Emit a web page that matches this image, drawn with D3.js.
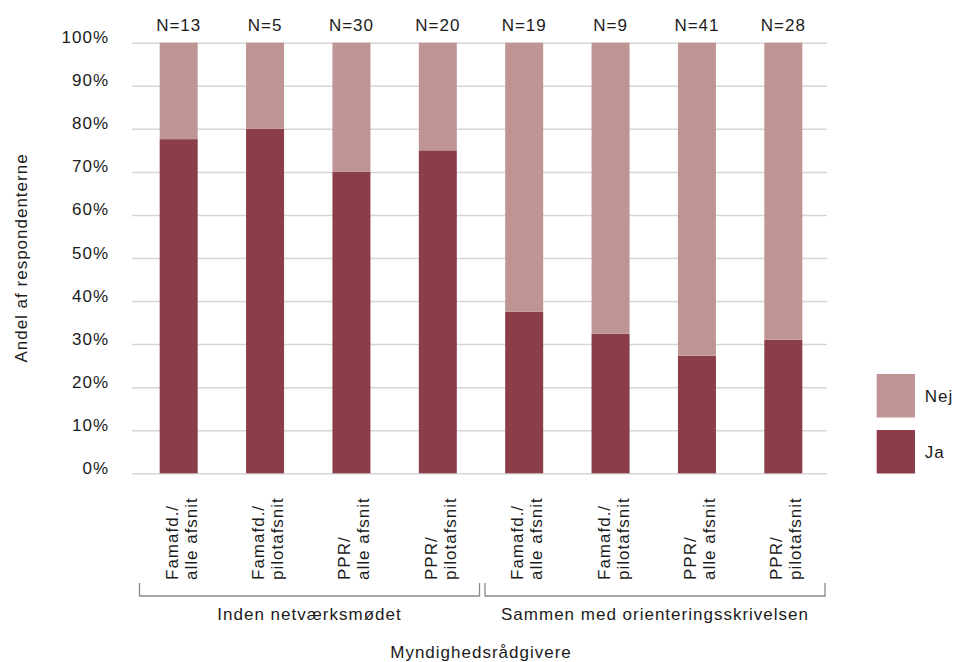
<!DOCTYPE html>
<html lang="da">
<head>
<meta charset="utf-8">
<script src="https://cdn.jsdelivr.net/npm/d3@7"></script>
<style>
  html, body { margin: 0; padding: 0; background: #fff; }
  svg { display: block; }
  text { font-family: "Liberation Sans", Arial, sans-serif; fill: #1b1b1b; letter-spacing: 1px; }
</style>
</head>
<body>
<svg id="chart" width="955" height="662"></svg>
<script>
// Svar fordelt på rådgivertype og tidspunkt (andel af respondenterne)
const groups = ["Inden netværksmødet", "Sammen med orienteringsskrivelsen"];
const groupOf = [0, 0, 0, 0, 1, 1, 1, 1];
const categoryLines = [
  ["Famafd./", "alle afsnit"],
  ["Famafd./", "pilotafsnit"],
  ["PPR/", "alle afsnit"],
  ["PPR/", "pilotafsnit"],
  ["Famafd./", "alle afsnit"],
  ["Famafd./", "pilotafsnit"],
  ["PPR/", "alle afsnit"],
  ["PPR/", "pilotafsnit"]
];
const nCounts = [13, 5, 30, 20, 19, 9, 41, 28];
const jaShare  = [77.6, 80, 70, 75, 37.5, 32.4, 27.3, 31.0];
const nejShare = [22.4, 20, 30, 25, 62.5, 67.6, 72.7, 69.0];
const seriesKeys = ["Ja", "Nej"];
const seriesColors = { Ja: "#8b3e47", Nej: "#bf9594" };
const yTicks = [0, 0.1, 0.2, 0.3, 0.4, 0.5, 0.6, 0.7, 0.8, 0.9, 1];
const yTitle = "Andel af respondenterne";
const xTitle = "Myndighedsrådgivere";

const svg = d3.select("#chart");

const plot = { left: 132, right: 827, top: 42.7, bottom: 473.3 };

const ids = categoryLines.map((_, i) => i);
const rows = ids.map(i => ({ id: i, Ja: jaShare[i] / 100, Nej: nejShare[i] / 100 }));

const x = d3.scaleBand()
  .domain(ids)
  .range([135.5, 826.5])
  .paddingInner(0.56)
  .paddingOuter(0.28);

const y = d3.scaleLinear().domain([0, 1]).range([plot.bottom, plot.top]);

// Gridlines and percentage tick labels
const yAxis = d3.axisLeft(y)
  .tickValues(yTicks)
  .tickFormat(d3.format(".0%"))
  .tickSize(-(plot.right - plot.left))
  .tickPadding(23);

const yg = svg.append("g")
  .attr("transform", `translate(${plot.left},0)`)
  .call(yAxis);
yg.select(".domain").remove();
yg.selectAll(".tick line").attr("stroke", "#d6d6d6").attr("stroke-width", 1.5);
yg.selectAll(".tick text")
  .attr("dy", "0em")
  .style("font-size", "17px")
  .attr("fill", "#1b1b1b");

// Stacked bars
const stacked = d3.stack().keys(seriesKeys)(rows);
svg.append("g")
  .selectAll("g")
  .data(stacked)
  .join("g")
  .attr("fill", s => seriesColors[s.key])
  .selectAll("rect")
  .data(s => s)
  .join("rect")
  .attr("x", d => x(d.data.id))
  .attr("width", x.bandwidth())
  .attr("y", d => y(d[1]))
  .attr("height", d => y(d[0]) - y(d[1]));

// N labels above each bar
svg.append("g")
  .selectAll("text")
  .data(ids)
  .join("text")
  .attr("x", i => x(i) + x.bandwidth() / 2)
  .attr("y", 30.5)
  .attr("text-anchor", "middle")
  .style("font-size", "17px")
  .text(i => `N=${nCounts[i]}`);

// Rotated two-line category labels
const catG = svg.append("g")
  .selectAll("text")
  .data(ids)
  .join("text")
  .attr("transform", i => `translate(${x(i) + x.bandwidth() / 2},580) rotate(-90)`)
  .attr("text-anchor", "start")
  .style("font-size", "17px");
catG.selectAll("tspan")
  .data(i => categoryLines[i].map((t, k) => ({ t, k })))
  .join("tspan")
  .attr("x", 0)
  .attr("y", d => d.k === 0 ? -1 : 18)
  .text(d => d.t);

// Group brackets and labels
const step = x.step();
const groupSpans = groups.map((g, gi) => {
  const members = ids.filter(i => groupOf[i] === gi);
  const start = x(members[0]) - step * 0.28;
  const end = x(members[members.length - 1]) + x.bandwidth() + step * 0.28;
  return { name: g, x0: start + 4, x1: end - 1.5 };
});

const bracketG = svg.append("g");
bracketG.selectAll("path")
  .data(groupSpans)
  .join("path")
  .attr("d", d => `M${d.x0},583 V596 H${d.x1} V583`)
  .attr("fill", "none")
  .attr("stroke", "#8a8a8a")
  .attr("stroke-width", 1.3);
bracketG.selectAll("text")
  .data(groupSpans)
  .join("text")
  .attr("x", d => (d.x0 + d.x1) / 2)
  .attr("y", 620)
  .attr("text-anchor", "middle")
  .style("font-size", "17px")
  .text(d => d.name);

// Axis titles
svg.append("text")
  .attr("transform", `translate(27,${(plot.top + plot.bottom) / 2}) rotate(-90)`)
  .attr("text-anchor", "middle")
  .style("font-size", "17px")
  .text(yTitle);

svg.append("text")
  .attr("x", 481)
  .attr("y", 658)
  .attr("text-anchor", "middle")
  .style("font-size", "17px")
  .text(xTitle);

// Legend (Nej above Ja, matching the stack order)
const legendItems = ["Nej", "Ja"];
const legend = svg.append("g")
  .selectAll("g")
  .data(legendItems)
  .join("g")
  .attr("transform", (d, i) => `translate(876.7,${374 + i * 56})`);
legend.append("rect")
  .attr("width", 38.3)
  .attr("height", 43.5)
  .attr("fill", d => seriesColors[d]);
legend.append("text")
  .attr("x", 48)
  .attr("y", 28)
  .style("font-size", "17px")
  .text(d => d);
</script>
</body>
</html>
